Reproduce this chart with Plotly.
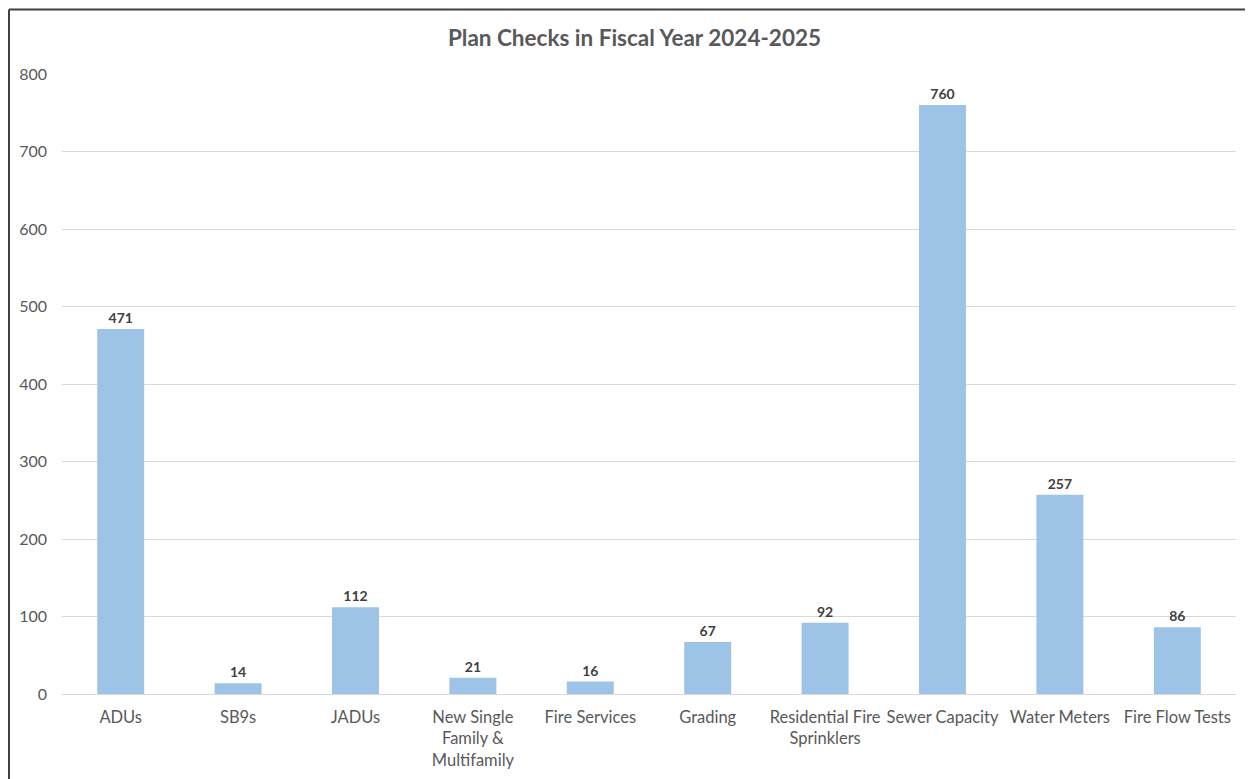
import plotly.graph_objects as go

categories = ["ADUs", "SB9s", "JADUs", "New Single<br>Family &<br>Multifamily", "Fire Services",
              "Grading", "Residential Fire<br>Sprinklers", "Sewer Capacity", "Water Meters", "Fire Flow Tests"]
values = [471, 14, 112, 21, 16, 67, 92, 760, 257, 86]
y_ticks = [0, 100, 200, 300, 400, 500, 600, 700, 800]

FONT = "Lato, 'Open Sans', sans-serif"

fig = go.Figure()
fig.add_trace(go.Bar(
    x=categories, y=values,
    marker=dict(color="#9DC3E6", line=dict(width=0)),
    text=[str(v) for v in values], textposition="outside",
    textfont=dict(family=FONT, size=14, color="#404040", weight="bold"),
    cliponaxis=False,
))

# page has an 8px body margin, so figure coords = screen coords - 8
OFF = 8
W, H = 1253, 779
ml, mr, mt, mb = 62 - OFF, 1253 - (1236 - OFF), 74 - OFF, 779 - (694 - OFF)
pw, ph = W - ml - mr, H - mt - mb

def px_x(x):
    return (x - ml) / pw

def px_y(y):
    return (H - mb - y) / ph

border = dict(color="#404040", width=2)
fig.add_shape(type="line", xref="paper", yref="paper",
              x0=px_x(1), x1=px_x(1), y0=px_y(1.5), y1=px_y(800), line=border, layer="below")
fig.add_shape(type="line", xref="paper", yref="paper",
              x0=px_x(1), x1=px_x(1300), y0=px_y(1.5), y1=px_y(1.5), line=border, layer="below")

fig.update_layout(
    width=W, height=H,
    margin=dict(l=ml, r=mr, t=mt, b=mb),
    paper_bgcolor="white", plot_bgcolor="white",
    bargap=0.6,
    showlegend=False,
    title=dict(text="<b>Plan Checks in Fiscal Year 2024-2025</b>", x=0.5, xanchor="center",
               y=1 - (38 - OFF) / H, yanchor="middle",
               font=dict(family=FONT, size=22.5, color="#595959")),
    xaxis=dict(tickfont=dict(family=FONT, size=16.5, color="#595959"), showgrid=False,
               showline=True, linecolor="#D9D9D9", linewidth=1, ticks="", tickangle=0,
               ticklabelstandoff=8),
    yaxis=dict(range=[0, 800], tickvals=y_ticks, showgrid=True, gridcolor="#D9D9D9", gridwidth=1,
               zeroline=False, showline=False, ticks="", ticklabelstandoff=14,
               tickfont=dict(family=FONT, size=16, color="#595959")),
    font=dict(family=FONT),
)

fig.write_html("out.html")
